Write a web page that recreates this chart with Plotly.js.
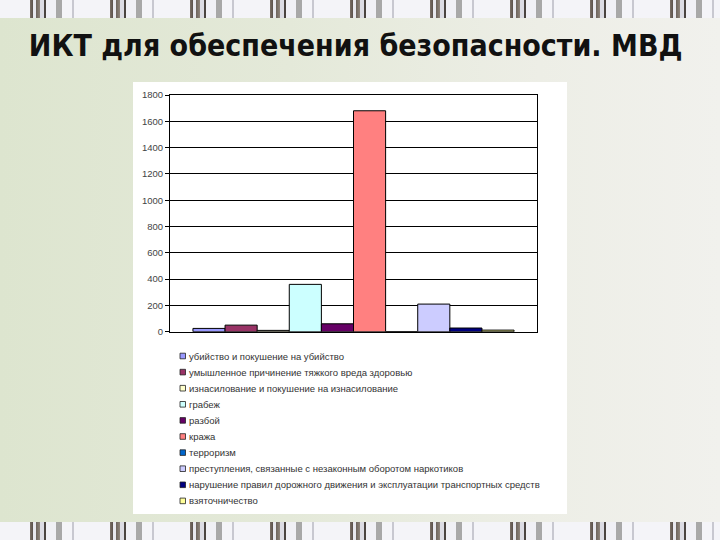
<!DOCTYPE html>
<html>
<head>
<meta charset="utf-8">
<script src="https://cdn.plot.ly/plotly-3.0.1.min.js"></script>
<style>
html,body{margin:0;padding:0;width:720px;height:540px;overflow:hidden;}
body{background:linear-gradient(90deg,#dde5cf 0%,#e4e9d9 40%,#edeee6 75%,#f1f1ed 100%);position:relative;}
.strip{position:absolute;left:0;width:720px;height:18px;
background:repeating-linear-gradient(90deg,#f4f4f8 0px,#f4f4f8 30px,#7a6f66 30px,#5a504a 33px,#e8e8ee 33px,#e8e8ee 36px,#6d645c 36px,#8f857c 40px,#dcdce4 40px,#dcdce4 44px,#4a4440 44px,#4a4440 46px,#f0f0f5 46px,#f0f0f5 56px,#a8a8a8 56px,#a8a8a8 62px,#f4f4f8 62px,#f4f4f8 72px,#c8c8d0 72px,#c8c8d0 74px,#f4f4f8 74px,#f4f4f8 80px);}
#top{top:0;}
#bot{top:522px;}
#chart{position:absolute;left:0;top:0;width:720px;height:540px;}
</style>
</head>
<body>
<div class="strip" id="top"></div>
<div class="strip" id="bot"></div>
<div id="chart"></div>
<script>
var titleText = 'ИКТ для обеспечения безопасности. МВД';
var category = [' '];
var seriesNames = [
  'убийство и покушение на убийство',
  'умышленное причинение тяжкого вреда здоровью',
  'изнасилование и покушение на изнасилование',
  'грабеж',
  'разбой',
  'кража',
  'терроризм',
  'преступления, связанные с незаконным оборотом наркотиков',
  'нарушение правил дорожного движения и эксплуатации транспортных средств',
  'взяточничество'
];
var seriesValues = [25, 50, 10, 360, 60, 1680, 0, 210, 28, 12];
var seriesColors = ['#9999FF','#993366','#FFFFCC','#CCFFFF','#660066','#FF8080','#0066CC','#CCCCFF','#000080','#FFFF99'];
var yTicks = [0,200,400,600,800,1000,1200,1400,1600,1800];

var W = 720, H = 540;
function px(x){return x/W;}
function py(y){return (H-y)/H;}

var traces = seriesNames.map(function(name,i){
  return {
    type:'bar', name:name, x:category, y:[seriesValues[i]],
    marker:{color:seriesColors[i], line:{color:'#000', width:1}},
    hoverinfo:'name+y', showlegend:false
  };
});

var shapes = [
  {type:'rect', xref:'paper', yref:'paper', x0:px(133), x1:px(567), y0:py(514), y1:py(82),
   fillcolor:'#ffffff', line:{width:0}, layer:'below'}
];
var annotations = [];
seriesNames.forEach(function(name,i){
  var yc = 356 + i*16.1;
  shapes.push({type:'rect', xref:'paper', yref:'paper', x0:px(180), x1:px(185.5), y0:py(yc+2.8), y1:py(yc-2.8),
    fillcolor:seriesColors[i], line:{color:'#222', width:0.8}});
  annotations.push({xref:'paper', yref:'paper', x:px(186.5), y:py(yc), xanchor:'left', yanchor:'middle',
    text:name, showarrow:false, font:{family:'Liberation Sans, Arial, sans-serif', size:9.5, color:'#333'}});
});

var layout = {
  width:W, height:H,
  margin:{l:0,r:0,t:0,b:0},
  paper_bgcolor:'rgba(0,0,0,0)',
  plot_bgcolor:'#ffffff',
  title:{text:titleText, x:0.494, xanchor:'center', y:py(45), yanchor:'middle',
    font:{family:'DejaVu Sans Condensed, DejaVu Sans, sans-serif', size:30, color:'#111', weight:'bold'}},
  barmode:'group', bargap:0.125, bargroupgap:0,
  xaxis:{domain:[px(170), px(537)], showticklabels:false, showline:true, linecolor:'#000', linewidth:1,
    mirror:true, ticks:'', showgrid:false, zeroline:false, fixedrange:true},
  yaxis:{domain:[py(331.7), py(95)], range:[0,1800], tickvals:yTicks, ticktext:yTicks.map(String),
    showline:true, linecolor:'#000', linewidth:1, mirror:true,
    ticks:'outside', ticklen:4, tickcolor:'#000',
    showgrid:true, gridcolor:'#000', gridwidth:1, zeroline:false,
    tickfont:{family:'Liberation Sans, Arial, sans-serif', size:9.5, color:'#444'}, fixedrange:true},
  shapes:shapes,
  annotations:annotations
};

Plotly.newPlot('chart', traces, layout, {displayModeBar:false, staticPlot:true});
</script>
</body>
</html>
